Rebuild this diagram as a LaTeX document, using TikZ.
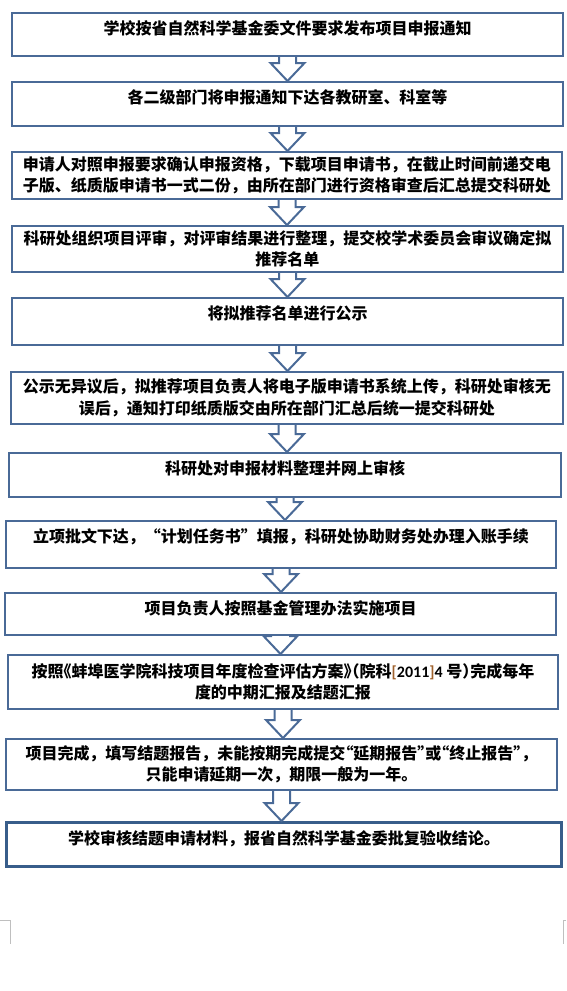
\documentclass[tikz,border=0pt]{standalone}
\usepackage{fontspec}
\usetikzlibrary{calc}
\newfontfamily\cjk{Noto Sans CJK SC}
\newfontfamily\latinb{Carlito}
\definecolor{boxblue}{HTML}{4A6A97}
\definecolor{lastblue}{HTML}{385D8A}
\definecolor{bracketbrown}{HTML}{A0622D}
\definecolor{cropgray}{HTML}{BFBFBF}
\newcommand{\halfq}[1]{{\addfontfeature{RawFeature=+halt}#1}}

\begin{document}
\begin{tikzpicture}[x=1pt, y=-1pt,
  stepbox/.style={draw=boxblue, line width=2pt, fill=white, anchor=north west,
    align=center, inner sep=3pt,
    font={\cjk\bfseries\fontsize{16pt}{21.5pt}\selectfont}},
  oneline/.style={text height=13pt, text depth=#1},
  flowarr/.style={draw=boxblue, line width=2pt, line join=miter},
  cropmark/.style={draw=cropgray, line width=0.8pt}]
  \useasboundingbox (0,0) rectangle (566,991);

  \node[stepbox, oneline=13pt, minimum width=551pt, minimum height=43pt] (b1) at (11,12)
    {学校按省自然科学基金委文件要求发布项目申报通知};
  \node[stepbox, oneline=14pt, minimum width=551pt, minimum height=44pt] (b2) at (11,81)
    {各二级部门将申报通知下达各教研室、科室等};
  \node[stepbox, minimum width=550pt, minimum height=47pt] (b3) at (11,151)
    {申请人对照申报要求确认申报资格，下载项目申请书，在截止时间前递交电\\
     子版、纸质版申请书一式二份，由所在部门进行资格审查后汇总提交科研处};
  \node[stepbox, minimum width=551pt, minimum height=46pt] (b4) at (11,225)
    {科研处组织项目评审，对评审结果进行整理，提交校学术委员会审议确定拟\\推荐名单};
  \node[stepbox, oneline=17pt, minimum width=551pt, minimum height=47pt] (b5) at (11,297)
    {将拟推荐名单进行公示};
  \node[stepbox, minimum width=552pt, minimum height=52pt] (b6) at (10,371)
    {公示无异议后，拟推荐项目负责人将电子版申请书系统上传，科研处审核无\\
     误后，通知打印纸质版交由所在部门汇总后统一提交科研处};
  \node[stepbox, oneline=14pt, minimum width=552pt, minimum height=44pt] (b7) at (8,452)
    {科研处对申报材料整理并网上审核};
  \node[stepbox, oneline=17pt, minimum width=550pt, minimum height=47pt] (b8) at (5,520)
    {立项批文下达，“计划任务书”填报，科研处协助财务处办理入账手续};
  \node[stepbox, oneline=12pt, minimum width=551pt, minimum height=42pt] (b9) at (4,592)
    {项目负责人按照基金管理办法实施项目};
  \node[stepbox, minimum width=550pt, minimum height=54pt] (b10) at (7,654)
    {按照\halfq{《}蚌埠医学院科技项目年度检查评估方案\halfq{》（}院科{\latinb\bfseries\textcolor{bracketbrown}{[}2011\textcolor{bracketbrown}{]}4 }号\halfq{）}完成每年\\
     度的中期汇报及结题汇报};
  \node[stepbox, minimum width=551pt, minimum height=51pt] (b11) at (5,738)
    {项目完成，填写结题报告，未能按期完成提交\halfq{“}延期报告\halfq{”}或\halfq{“}终止报告\halfq{”}，\\
     只能申请延期一次，期限一般为一年。};
  \node[stepbox, oneline=14pt, draw=lastblue, line width=3pt,
    minimum width=555pt, minimum height=44pt] (b12) at (5,821)
    {学校审核结题申请材料，报省自然科学基金委批复验收结论。};

  % hollow block arrows between the steps
  \foreach \a/\b in {b1/b2, b2/b3, b3/b4, b4/b5, b5/b6, b6/b7,
                     b7/b8, b8/b9, b9/b10, b10/b11, b11/b12}
    \draw[flowarr] let \p1=(\a.south), \p2=(\b.north) in
      (\x1-8.5pt,\y1) -- (\x1-8.5pt,\y2+18pt) -- (\x1-17pt,\y2+18pt) -- (\x1,\y2)
      -- (\x1+17pt,\y2+18pt) -- (\x1+8.5pt,\y2+18pt) -- (\x1+8.5pt,\y1);

  % page corner marks
  \draw[cropmark] (0,920) -- (10,920) -- (10,944);
  \draw[cropmark] (566,920) -- (563,920) -- (563,944);
\end{tikzpicture}
\end{document}
